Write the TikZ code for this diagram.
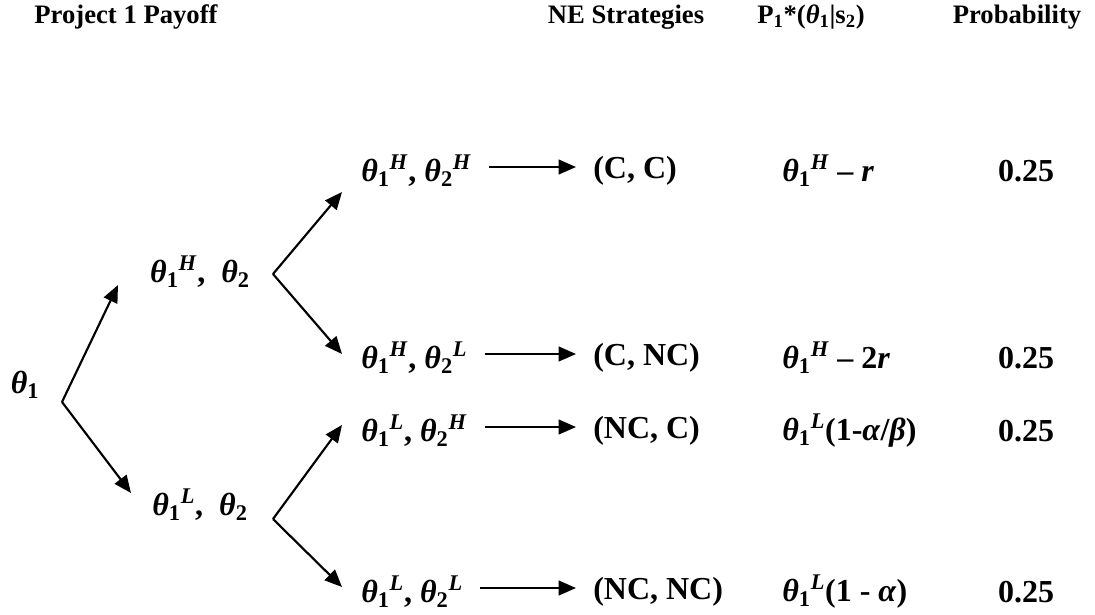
\documentclass[tikz,border=0pt]{standalone}
\usepackage{fontspec}
\setmainfont{Liberation Serif}
\usetikzlibrary{arrows.meta}

\newcommand{\thab}[2]{\textit{θ}\textsubscript{#1}\textsuperscript{\textit{#2}}}
\newcommand{\thsub}[1]{\textit{θ}\textsubscript{#1}}

\tikzset{
  head/.style={inner sep=0.75pt,font=\bfseries\fontsize{20}{24}\selectfont},
  lbl/.style={inner sep=0.75pt,font=\bfseries\fontsize{24}{28}\selectfont},
  branch/.style={line width=1.6pt,-{Triangle[length=13pt,width=11pt]}}
}

\begin{document}
\begin{tikzpicture}[x=0.75pt,y=0.75pt,yscale=-1]
\useasboundingbox (0,0) rectangle (1095,614);

% Text Node
\node [head] (hpay) at (126,17) {Project 1 Payoff};
% Text Node
\node [head] (hne) at (626,17) {NE Strategies};
% Text Node
\node [head] (hp) at (811,17) {P\textsubscript{1}*(\textit{θ}\textsubscript{1}|s\textsubscript{2})};
% Text Node
\node [head] (hprob) at (1017,17) {Probability};

% Text Node
\node [lbl] (root) at (25,385) {\thsub{1}};
% Text Node
\node [lbl] (hi) at (200,272) {\thab{1}{H},\ \ \thsub{2}};
% Text Node
\node [lbl] (lo) at (200,505) {\thab{1}{L},\ \ \thsub{2}};

% Text Node
\node [lbl,anchor=west] (p1) at (360,171) {\thab{1}{H}, \thab{2}{H}};
% Text Node
\node [lbl,anchor=west] (p2) at (360,358) {\thab{1}{H}, \thab{2}{L}};
% Text Node
\node [lbl,anchor=west] (p3) at (360,431) {\thab{1}{L}, \thab{2}{H}};
% Text Node
\node [lbl,anchor=west] (p4) at (360,592) {\thab{1}{L}, \thab{2}{L}};

% Text Node
\node [lbl,anchor=west] (s1) at (592,171) {(C, C)};
% Text Node
\node [lbl,anchor=west] (s2) at (592,358) {(C, NC)};
% Text Node
\node [lbl,anchor=west] (s3) at (592,431) {(NC, C)};
% Text Node
\node [lbl,anchor=west] (s4) at (592,592) {(NC, NC)};

% Text Node
\node [lbl,anchor=west] (q1) at (781,171) {\thab{1}{H} – \textit{r}};
% Text Node
\node [lbl,anchor=west] (q2) at (781,358) {\thab{1}{H} – 2\textit{r}};
% Text Node
\node [lbl,anchor=west] (q3) at (781,431) {\thab{1}{L}(1-\textit{α}/\textit{β})};
% Text Node
\node [lbl,anchor=west] (q4) at (781,592) {\thab{1}{L}(1 - \textit{α})};

% Text Node
\node [lbl] (pr1) at (1026,171) {0.25};
% Text Node
\node [lbl] (pr2) at (1026,358) {0.25};
% Text Node
\node [lbl] (pr3) at (1026,431) {0.25};
% Text Node
\node [lbl] (pr4) at (1026,592) {0.25};

% Branch points and arrow tips
\coordinate (v0) at (62,402);
\coordinate (v1) at (273,274);
\coordinate (v2) at (273,519);
\coordinate (a1) at (118,285);
\coordinate (a2) at (131,493);
\coordinate (b1) at (342,192);
\coordinate (b2) at (342,354);
\coordinate (b3) at (342,425);
\coordinate (b4) at (342,587);

%Straight Lines
\draw [branch] (v0) -- (a1);
\draw [branch] (v0) -- (a2);
\draw [branch] (v1) -- (b1);
\draw [branch] (v1) -- (b2);
\draw [branch] (v2) -- (b3);
\draw [branch] (v2) -- (b4);

%Straight Lines
\foreach \i in {1,2,3,4}
  \draw [branch,shorten <=12pt,shorten >=12pt] ([yshift=-3pt]p\i.east) -- ([yshift=-3pt]s\i.west);

\end{tikzpicture}
\end{document}
